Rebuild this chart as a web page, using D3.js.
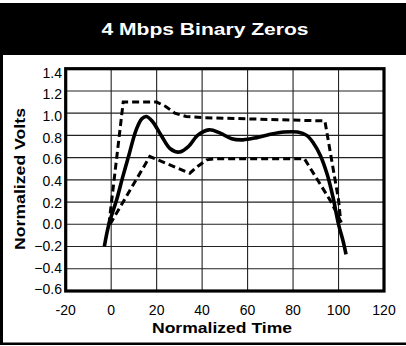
<!DOCTYPE html>
<html><head><meta charset="utf-8">
<script src="https://cdn.jsdelivr.net/npm/d3@7"></script>
<style>body{margin:0;background:#fff}svg{display:block}</style>
</head><body>
<svg id="c" width="406" height="346"></svg>
<script>
const title = "4 Mbps Binary Zeros";
const xTitle = "Normalized Time";
const yTitle = "Normalized Volts";
const xTicks = [-20, 0, 20, 40, 60, 80, 100, 120];
const yTicks = [-0.6, -0.4, -0.2, 0.0, 0.2, 0.4, 0.6, 0.8, 1.0, 1.2, 1.4];
// measured waveform
const waveX = [-3, -1, 2.4, 5, 7.5, 11, 13.5, 15.5, 18, 22, 26, 30, 34, 38, 43, 48, 53, 58, 64, 70, 76, 82, 86, 89, 92, 95, 97.5, 100, 102, 103.3];
const waveY = [-0.2, 0.0, 0.22, 0.42, 0.6, 0.85, 0.95, 0.97, 0.93, 0.8, 0.68, 0.65, 0.7, 0.8, 0.85, 0.82, 0.77, 0.76, 0.78, 0.81, 0.83, 0.83, 0.8, 0.73, 0.62, 0.45, 0.25, 0.0, -0.15, -0.27];
// upper mask
const upperX = [-1, 5.3, 20, 24, 28, 33, 40, 94, 100, 101];
const upperY = [0.0, 1.1, 1.1, 1.06, 1.0, 0.97, 0.96, 0.93, 0.22, 0.02];
// lower mask
const lowerX = [-0.5, 17, 34.6, 38, 42, 46, 85, 96.2, 100, 101.5];
const lowerY = [0.0, 0.61, 0.46, 0.52, 0.58, 0.59, 0.59, 0.22, 0.07, 0.0];

const svg = d3.select("#c");
// frame
svg.append("rect").attr("x",0).attr("y",3).attr("width",406).attr("height",52).attr("fill","#000");
svg.append("rect").attr("x",0).attr("y",3).attr("width",3).attr("height",342).attr("fill","#000");
svg.append("rect").attr("x",0).attr("y",342.5).attr("width",406).attr("height",2.5).attr("fill","#000");
svg.append("text").attr("x",205).attr("y",35).attr("text-anchor","middle")
  .attr("fill","#fff").attr("font-family","Liberation Sans, Arial, sans-serif")
  .attr("font-weight","bold").attr("font-size",17)
  .attr("textLength",207).attr("lengthAdjust","spacingAndGlyphs").text(title);

const L = 65.7, R = 384, T = 68.7, B = 291;
const x = d3.scaleLinear().domain([-20,120]).range([L,R]);
const y = d3.scaleLinear().domain([-0.6,1.4]).range([B,T]);
const yLab = d3.scaleLinear().domain([-0.6,1.4]).range([289.3,72.5]);

const g = svg.append("g");
// grid
g.selectAll("line.v").data(xTicks.filter(d=>d>-20&&d<120)).join("line")
  .attr("x1",d=>x(d)).attr("x2",d=>x(d)).attr("y1",T).attr("y2",B)
  .attr("stroke","#222").attr("stroke-width",1.1);
g.selectAll("line.h").data(yTicks.filter(d=>d>-0.6&&d<1.4)).join("line")
  .attr("class","h")
  .attr("y1",d=>y(d)).attr("y2",d=>y(d)).attr("x1",L).attr("x2",R)
  .attr("stroke","#222").attr("stroke-width",1.1);

const line = d3.line().x(d=>x(d[0])).y(d=>y(d[1]));
const smooth = d3.line().x(d=>x(d[0])).y(d=>y(d[1])).curve(d3.curveCatmullRom.alpha(0.5));
g.append("path").datum(d3.zip(upperX,upperY)).attr("d",line)
  .attr("fill","none").attr("stroke","#000").attr("stroke-width",3).attr("stroke-dasharray","7,4");
g.append("path").datum(d3.zip(lowerX,lowerY)).attr("d",line)
  .attr("fill","none").attr("stroke","#000").attr("stroke-width",3).attr("stroke-dasharray","7,4");
g.append("path").datum(d3.zip(waveX,waveY)).attr("d",smooth)
  .attr("fill","none").attr("stroke","#000").attr("stroke-width",3.6).attr("stroke-linejoin","round");

// border
g.append("rect").attr("x",L).attr("y",T).attr("width",R-L).attr("height",B-T)
  .attr("fill","none").attr("stroke","#000").attr("stroke-width",3.2);

const font = "Liberation Sans, Arial, sans-serif";
// tick labels
svg.selectAll("text.yt").data(yTicks).join("text").attr("class","yt")
  .attr("x",62).attr("y",d=>yLab(d)).attr("dy","0.36em").attr("text-anchor","end")
  .attr("font-family",font).attr("font-size",14).attr("fill","#000")
  .text(d=>d3.format(".1f")(d));
svg.selectAll("text.xt").data(xTicks).join("text").attr("class","xt")
  .attr("x",d=>x(d)).attr("y",315).attr("text-anchor","middle")
  .attr("font-family",font).attr("font-size",14).attr("fill","#000")
  .text(d=>d);
// axis titles
svg.append("text").attr("x",222).attr("y",333).attr("text-anchor","middle")
  .attr("font-family",font).attr("font-weight","bold").attr("font-size",15)
  .attr("textLength",140).attr("lengthAdjust","spacingAndGlyphs").text(xTitle);
svg.append("text").attr("transform","translate(25,179) rotate(-90)").attr("text-anchor","middle")
  .attr("font-family",font).attr("font-weight","bold").attr("font-size",15)
  .attr("textLength",142).attr("lengthAdjust","spacingAndGlyphs").text(yTitle);
</script>
</body></html>
